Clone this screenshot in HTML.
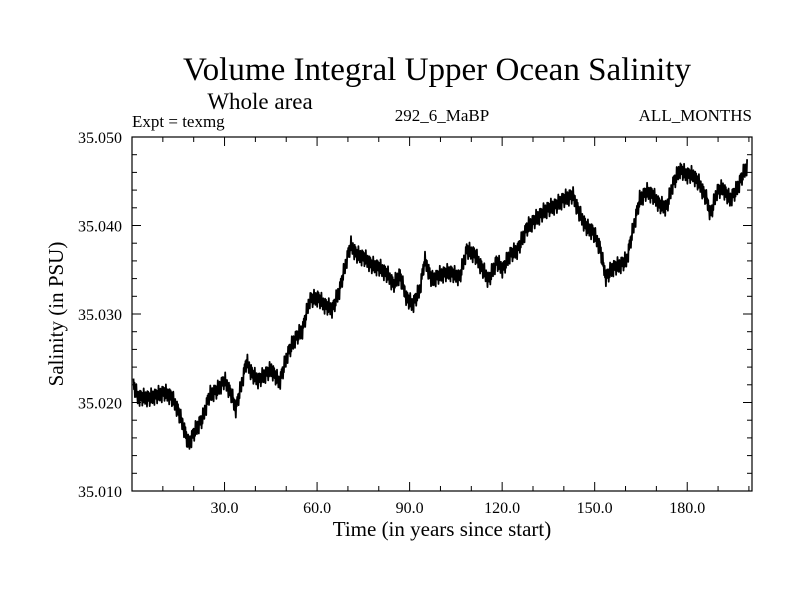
<!DOCTYPE html>
<html><head><meta charset="utf-8"><style>
body{margin:0;background:#fff}
svg{display:block;font-family:"Liberation Serif",serif}
</style></head><body>
<svg id="chart" width="800" height="600" viewBox="0 0 800 600">
<text x="437" y="80" font-size="33" text-anchor="middle" textLength="508" lengthAdjust="spacingAndGlyphs">Volume Integral Upper Ocean Salinity</text>
<text x="260" y="109" font-size="23" text-anchor="middle">Whole area</text>
<text x="132" y="127" font-size="17">Expt = texmg</text>
<text x="442" y="121" font-size="17" text-anchor="middle">292_6_MaBP</text>
<text x="752" y="121" font-size="17" text-anchor="end">ALL_MONTHS</text>
<text x="442" y="536" font-size="21" text-anchor="middle">Time (in years since start)</text>
<text x="0" y="0" font-size="21" text-anchor="middle" transform="translate(63,314) rotate(-90)">Salinity (in PSU)</text>
<g id="axes"></g>
<path id="series" fill="none" stroke="#000" stroke-width="1.8" stroke-linejoin="round"></path>
<rect x="132" y="137" width="620" height="354" fill="none" stroke="#000" stroke-width="1.2"></rect>
</svg>
<script>
const years=[0.5,1.8,5.7,10.5,12.8,14.8,17.0,18.3,20.3,22.9,25.1,27.7,30.0,32.3,33.6,35.5,37.1,39.1,41.0,43.0,45.2,47.8,50.4,52.7,55.3,57.6,60.2,62.4,65.0,67.3,69.6,70.9,72.8,75.4,77.7,80.3,82.9,84.8,86.8,89.0,91.0,93.3,94.9,97.2,99.8,103.0,106.2,108.5,111.1,113.7,115.6,118.2,120.2,122.5,125.0,128.0,131.2,134.5,137.7,139.7,142.9,145.2,147.5,149.4,151.7,153.6,155.9,158.2,160.4,162.4,164.6,166.9,168.8,171.1,173.3,175.3,177.6,179.8,181.8,184.1,186.3,187.6,189.6,191.5,193.8,196.0,198.0,199.5];
const salinity=[35.0220,35.0206,35.0205,35.0211,35.0206,35.0192,35.0169,35.0152,35.0167,35.0182,35.0208,35.0214,35.0225,35.0208,35.0192,35.0220,35.0246,35.0231,35.0225,35.0231,35.0237,35.0222,35.0254,35.0271,35.0282,35.0316,35.0318,35.0310,35.0305,35.0327,35.0361,35.0378,35.0367,35.0363,35.0355,35.0352,35.0344,35.0333,35.0344,35.0318,35.0310,35.0327,35.0361,35.0338,35.0344,35.0347,35.0341,35.0372,35.0367,35.0350,35.0338,35.0359,35.0350,35.0367,35.0372,35.0397,35.0408,35.0418,35.0423,35.0429,35.0434,35.0412,35.0397,35.0393,35.0375,35.0341,35.0352,35.0355,35.0361,35.0395,35.0429,35.0438,35.0434,35.0423,35.0420,35.0446,35.0463,35.0457,35.0457,35.0446,35.0429,35.0412,35.0438,35.0442,35.0429,35.0440,35.0457,35.0468];
const xTicks=[30,60,90,120,150,180];
const xTickLabels=["30.0","60.0","90.0","120.0","150.0","180.0"];
const yTicks=[35.010,35.020,35.030,35.040,35.050];
const yTickLabels=["35.010","35.020","35.030","35.040","35.050"];
const X0=132,X1=752,Y0=491,Y1=137,XMIN=0,XMAX=201,YMIN=35.010,YMAX=35.050;
function sx(v){return X0+(v-XMIN)/(XMAX-XMIN)*(X1-X0);}
function sy(v){return Y0-(v-YMIN)/(YMAX-YMIN)*(Y0-Y1);}
const NS="http://www.w3.org/2000/svg";
const axes=document.getElementById('axes');
function line(x1,y1,x2,y2,name){const l=document.createElementNS(NS,'line');l.setAttribute('x1',x1);l.setAttribute('y1',y1);l.setAttribute('x2',x2);l.setAttribute('y2',y2);l.setAttribute('stroke','#000');l.setAttribute('stroke-width','1');


axes.appendChild(l);}
function text(x,y,s,anchor,name){const t=document.createElementNS(NS,'text');t.setAttribute('x',x);t.setAttribute('y',y);t.setAttribute('font-size','16');t.setAttribute('text-anchor',anchor);t.textContent=s;


axes.appendChild(t);}
for(let v=10;v<XMAX;v+=10){const x=sx(v);const major=v%30===0;const L=major?9:5;line(x,Y0,x,Y0-L,'x-tick');line(x,Y1,x,Y1+L,'x-tick-top');}
xTicks.forEach((v,i)=>text(sx(v),513,xTickLabels[i],'middle','x-tick-label'));
for(let k=0;k<=20;k++){const v=YMIN+k*0.002;const y=sy(v);const major=k%5===0;const L=major?9:5;line(X0,y,X0+L,y,'y-tick');line(X1,y,X1-L,y,'y-tick-right');}
yTicks.forEach((v,i)=>text(122,sy(v)+6,yTickLabels[i],'end','y-tick-label'));
const jit=[1,-0.5,0.8,-1.3,0.3,-0.8,1.5,-0.3,0.6,-1.0,0.9,-0.6,0.2,-1.4,1.1,-0.2];
function interp(t){let i=0;while(i<years.length-2&&years[i+1]<t)i++;const a=years[i],b=years[i+1];const f=Math.max(0,Math.min(1,(t-a)/(b-a)));return salinity[i]+(salinity[i+1]-salinity[i])*f;}
let d='';let k=0;
for(let t=years[0];t<=years[years.length-1];t+=0.15){const v=interp(t)+jit[k%jit.length]*0.0007;d+=(k?'L':'M')+sx(t).toFixed(1)+','+sy(v).toFixed(1);k++;}
document.getElementById('series').setAttribute('d',d);
</script>
</body></html>
